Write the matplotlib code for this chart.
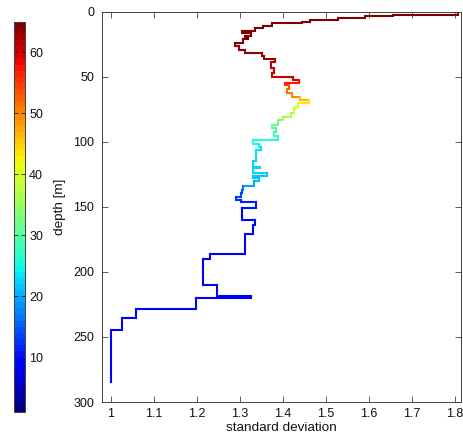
import numpy as np
import matplotlib
matplotlib.use('Agg')
import matplotlib.pyplot as plt
from matplotlib.collections import LineCollection
from matplotlib.colors import Normalize
from matplotlib.cm import ScalarMappable

# ---- data ----
layer_top = [1.0, 2.2, 3.3, 4.8, 6.4, 7.7, 8.9, 10.8, 12.8, 14.6,
             16.6, 18.3, 19.8, 21.2, 24.3, 26.6, 29.8, 31.8, 34.1, 36.4,
             39.0, 43.0, 47.0, 50.5, 52.5, 54.5, 56.5, 59.5, 62.5, 65.8,
             67.8, 70.3, 73.0, 75.0, 77.5, 80.8, 83.3, 87.2, 89.7, 92.8,
             95.4, 98.7, 102.0, 104.0, 106.0, 114.5, 119.0, 120.5, 124.3, 126.4,
             128.0, 130.0, 134.0, 137.2, 139.5, 142.5, 144.5, 146.0, 150.6, 160.2,
             164.0, 170.5, 186.0, 190.2, 210.2, 218.3, 220.2, 228.2, 235.1, 244.8]
profile_bottom = 284.6
layer_std = [1.807, 1.656, 1.591, 1.528, 1.463, 1.444, 1.374, 1.353, 1.335, 1.305,
             1.326, 1.312, 1.319, 1.307, 1.288, 1.298, 1.312, 1.351, 1.356, 1.381,
             1.372, 1.379, 1.374, 1.423, 1.437, 1.405, 1.414, 1.409, 1.421, 1.440,
             1.460, 1.435, 1.428, 1.426, 1.419, 1.400, 1.388, 1.374, 1.384, 1.379,
             1.388, 1.331, 1.344, 1.350, 1.337, 1.330, 1.347, 1.330, 1.363, 1.330,
             1.345, 1.333, 1.307, 1.305, 1.302, 1.291, 1.302, 1.338, 1.305, 1.335,
             1.331, 1.313, 1.230, 1.213, 1.247, 1.327, 1.198, 1.057, 1.025, 1.000]
layer_color = [64, 64, 64, 64, 64, 64, 64, 64, 64, 64,
               64, 64, 64, 64, 63, 63, 63, 63, 63, 61,
               61, 60, 60, 59, 57, 55, 53, 51, 49, 46,
               43, 41, 39, 38, 36, 34, 32, 30, 29, 28,
               26, 25, 24, 23, 23, 22, 22, 22, 21, 21,
               21, 19, 16, 14, 13, 12, 11, 10, 9, 9,
               9, 9, 8, 8, 8, 8, 8, 8, 8, 8]
x_ticks = [1.0, 1.1, 1.2, 1.3, 1.4, 1.5, 1.6, 1.7, 1.8]
x_ticklabels = ['1', '1.1', '1.2', '1.3', '1.4', '1.5', '1.6', '1.7', '1.8']
y_ticks = [0, 50, 100, 150, 200, 250, 300]
cbar_ticks = [10, 20, 30, 40, 50, 60]

plt.rcParams['font.family'] = ['Liberation Sans', 'DejaVu Sans']

W, H = 463, 437
fig = plt.figure(figsize=(W / 100, H / 100), dpi=100)
ax = fig.add_axes([102 / W, 35 / H, 359 / W, 390.3 / H])

cmap = plt.get_cmap('jet', 64)
norm = Normalize(vmin=1, vmax=65)

tops = list(layer_top) + [profile_bottom]
n = len(layer_std)
segs = []
for i in range(n):
    pts = [(layer_std[i], tops[i]), (layer_std[i], tops[i + 1])]
    if i + 1 < n:
        pts.append((layer_std[i + 1], tops[i + 1]))
    segs.append(pts)
lc = LineCollection(segs, cmap=cmap, norm=norm, linewidths=1.5,
                    capstyle='projecting', joinstyle='miter')
lc.set_array(np.array(layer_color, dtype=float))
ax.add_collection(lc)

ax.set_xlim(0.979, 1.8147)
ax.set_ylim(300, 0)
ax.set_xticks(x_ticks)
ax.set_xticklabels(x_ticklabels)
ax.set_yticks(y_ticks)
axis_col = '#404040'
for s in ax.spines.values():
    s.set_color(axis_col)
    s.set_linewidth(0.7)
ax.tick_params(direction='in', top=True, right=True, length=4, width=0.6,
               color=axis_col, labelsize=9, labelcolor='#111111')
ax.tick_params(axis='y', pad=5.5)
ax.tick_params(axis='x', pad=4)
ax.set_xlabel('standard deviation', fontsize=9.7, labelpad=1.5, color='#111111')
ax.set_ylabel('depth [m]', fontsize=9.7, labelpad=5, color='#111111')

cax = fig.add_axes([14 / W, 25 / H, 11 / W, 390 / H])
sm = ScalarMappable(norm=norm, cmap=cmap)
cb = fig.colorbar(sm, cax=cax, ticks=cbar_ticks)
cb.outline.set_edgecolor(axis_col)
cb.outline.set_linewidth(0.7)
cax.tick_params(direction='in', left=True, right=True, length=3, width=0.6,
                color='#202020', labelsize=9, pad=3, labelcolor='#111111')

fig.savefig('out.png', dpi=100, facecolor='white')
